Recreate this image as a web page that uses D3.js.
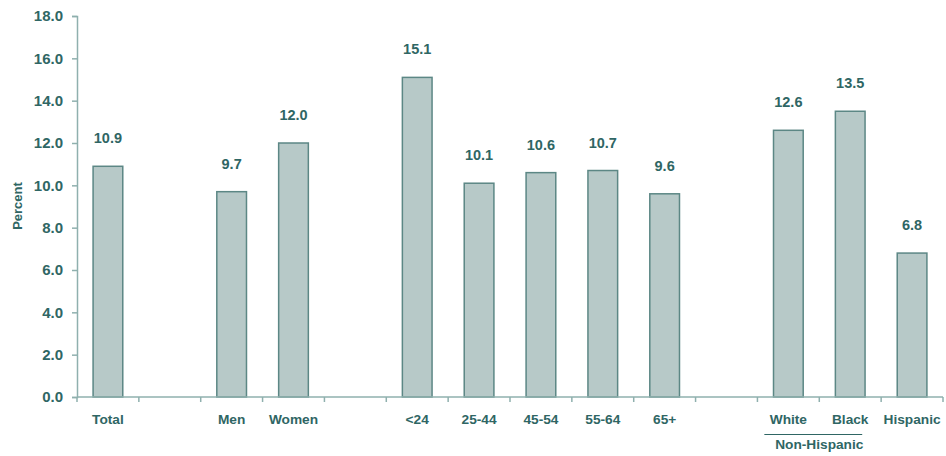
<!DOCTYPE html>
<html>
<head>
<meta charset="utf-8">
<script src="https://cdn.jsdelivr.net/npm/d3@7"></script>
<style>
  html, body { margin: 0; padding: 0; background: #fff; }
  svg { display: block; font-family: Arial, "Liberation Sans", sans-serif; }
</style>
</head>
<body>
<svg id="chart" width="946" height="456"></svg>
<script>
// Categories along the x axis; "gap" entries are spacer slots between groups
const categories = ["Total", "gap1", "Men", "Women", "gap2", "<24", "25-44", "45-54", "55-64", "65+", "gap3", "White", "Black", "Hispanic"];
const values     = [10.9, null, 9.7, 12.0, null, 15.1, 10.1, 10.6, 10.7, 9.6, null, 12.6, 13.5, 6.8];
const yTicks     = [0, 2, 4, 6, 8, 10, 12, 14, 16, 18];
const groupLabel = "Non-Hispanic";
const groupMembers = ["White", "Black"];

const textColor = "#2f6664";
const axisColor = "#8fb0ae";
const barFill   = "#b7c9c8";
const barStroke = "#5c8785";

const svg = d3.select("#chart");
const plotLeft = 77, plotRight = 943, plotTop = 16, plotBottom = 397;

const x = d3.scaleBand().domain(categories).range([plotLeft, plotRight]).paddingInner(0).paddingOuter(0);
const y = d3.scaleLinear().domain([0, 18]).range([plotBottom, plotTop]);
const barW = x.bandwidth() * 0.48;

// Y axis
const yAxis = svg.append("g")
  .attr("transform", `translate(${plotLeft},0)`)
  .call(d3.axisLeft(y).tickValues(yTicks).tickFormat(d3.format(".1f")).tickSize(5).tickPadding(9));
yAxis.select(".domain").attr("stroke", axisColor).attr("stroke-width", 1.5);
yAxis.selectAll(".tick line").attr("stroke", axisColor).attr("stroke-width", 1.5);
yAxis.selectAll(".tick text")
  .attr("fill", textColor).attr("font-size", 15).attr("font-weight", "bold")
  .attr("font-family", "Arial, 'Liberation Sans', sans-serif");

// Y axis title
svg.append("text")
  .attr("transform", `translate(22,206) rotate(-90)`)
  .attr("text-anchor", "middle")
  .attr("fill", textColor).attr("font-size", 13).attr("font-weight", "bold")
  .text("Percent");

// Bars
const data = categories.map((c, i) => ({ c, v: values[i] })).filter(d => d.v != null);
svg.append("g").selectAll("rect").data(data).join("rect")
  .attr("x", d => x(d.c) + (x.bandwidth() - barW) / 2)
  .attr("y", d => y(d.v))
  .attr("width", barW)
  .attr("height", d => y(0) - y(d.v))
  .attr("fill", barFill)
  .attr("stroke", barStroke)
  .attr("stroke-width", 1.5);

// Value labels
svg.append("g").selectAll("text").data(data).join("text")
  .attr("x", d => x(d.c) + x.bandwidth() / 2)
  .attr("y", d => y(d.v) - 23)
  .attr("text-anchor", "middle")
  .attr("fill", textColor).attr("font-size", 14.5).attr("font-weight", "bold")
  .text(d => d3.format(".1f")(d.v));

// X axis with ticks at slot boundaries
const xAxisG = svg.append("g");
xAxisG.append("line")
  .attr("x1", plotLeft).attr("x2", plotRight).attr("y1", plotBottom).attr("y2", plotBottom)
  .attr("stroke", axisColor).attr("stroke-width", 1.5);
const boundaries = categories.map(c => x(c)).concat([plotRight]);
xAxisG.selectAll("line.tk").data(boundaries).join("line")
  .attr("class", "tk")
  .attr("x1", d => d).attr("x2", d => d)
  .attr("y1", plotBottom).attr("y2", plotBottom + 5)
  .attr("stroke", axisColor).attr("stroke-width", 1.5);

// Category labels
svg.append("g").selectAll("text").data(categories.filter(c => !c.startsWith("gap"))).join("text")
  .attr("x", c => x(c) + x.bandwidth() / 2)
  .attr("y", 424)
  .attr("text-anchor", "middle")
  .attr("fill", textColor).attr("font-size", 13.7).attr("font-weight", "bold")
  .text(c => c);

// Group bracket under White / Black
const gx1 = x(groupMembers[0]) + x.bandwidth() / 2 - 24;
const gx2 = x(groupMembers[1]) + x.bandwidth() / 2 + 12;
svg.append("line")
  .attr("x1", gx1).attr("x2", gx2).attr("y1", 434.5).attr("y2", 434.5)
  .attr("stroke", textColor).attr("stroke-width", 1);
svg.append("text")
  .attr("x", (x(groupMembers[0]) + x(groupMembers[1]) + x.bandwidth()) / 2)
  .attr("y", 449)
  .attr("text-anchor", "middle")
  .attr("fill", textColor).attr("font-size", 13.7).attr("font-weight", "bold")
  .text(groupLabel);
</script>
</body>
</html>
